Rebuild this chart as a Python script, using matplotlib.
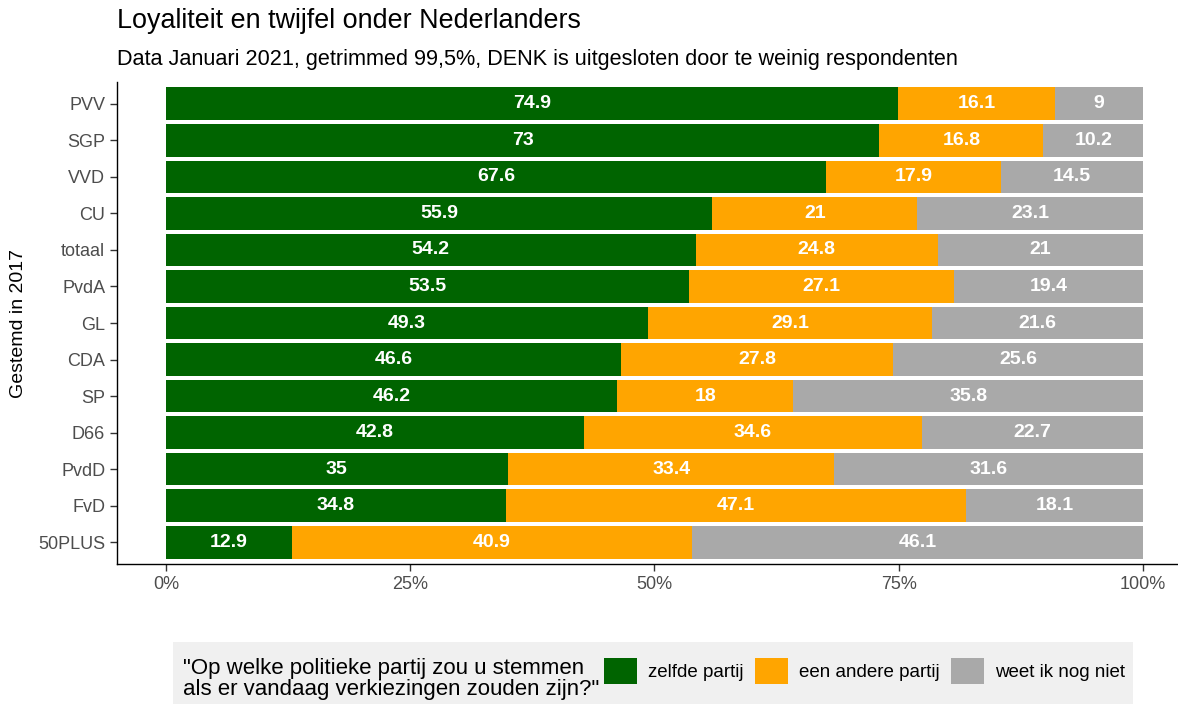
import matplotlib.pyplot as plt
from matplotlib.patches import Patch, Rectangle
import numpy as np

plt.rcParams['font.family'] = ['Liberation Sans', 'DejaVu Sans']

# ── Data (top to bottom) ──
parties = ['PVV', 'SGP', 'VVD', 'CU', 'totaal', 'PvdA', 'GL', 'CDA', 'SP',
           'D66', 'PvdD', 'FvD', '50PLUS']
zelfde = [74.9, 73, 67.6, 55.9, 54.2, 53.5, 49.3, 46.6, 46.2, 42.8, 35, 34.8, 12.9]
andere = [16.1, 16.8, 17.9, 21, 24.8, 27.1, 29.1, 27.8, 18, 34.6, 33.4, 47.1, 40.9]
weet_niet = [9, 10.2, 14.5, 23.1, 21, 19.4, 21.6, 25.6, 35.8, 22.7, 31.6, 18.1, 46.1]
labels = ['zelfde partij', 'een andere partij', 'weet ik nog niet']
colors = ['#006400', '#FFA500', '#A9A9A9']
ticks = [0, 25, 50, 75, 100]
tick_labels = ['0%', '25%', '50%', '75%', '100%']

W, H = 1178, 704
fig = plt.figure(figsize=(W / 100, H / 100), dpi=100)
ax = fig.add_axes([117 / W, 1 - 564 / H, (1192 - 117) / W, (564 - 82) / H])

series = np.array([zelfde, andere, weet_niet], dtype=float)
totals = series.sum(axis=0)
pct = series / totals * 100  # position = "fill"
y = np.arange(len(parties))

left = np.zeros(len(parties))
for k in range(3):
    ax.barh(y, pct[k], left=left, height=0.9, color=colors[k], label=labels[k])
    for i in range(len(parties)):
        ax.text(left[i] + pct[k][i] / 2, y[i], f'{series[k][i]:g}', ha='center', va='center',
                color='white', fontsize=14, fontweight='bold')
    left += pct[k]

ax.set_xlim(-5, 105)
ax.set_ylim(len(parties) - 0.4, -0.6)
ax.set_yticks(y)
ax.set_yticklabels(parties)
ax.set_xticks(ticks)
ax.set_xticklabels(tick_labels)
ax.tick_params(labelsize=13, colors='#333333', labelcolor='#4D4D4D', length=5, width=1)
ax.spines['top'].set_visible(False)
ax.spines['right'].set_visible(False)
ax.spines['left'].set_linewidth(1)
ax.spines['bottom'].set_linewidth(1)
ax.set_ylabel('Gestemd in 2017', fontsize=14, labelpad=8)

fig.text(117 / W, 1 - 21 / H, 'Loyaliteit en twijfel onder Nederlanders', fontsize=19.4, va='center')
fig.text(117 / W, 1 - 59 / H,
         'Data Januari 2021, getrimmed 99,5%, DENK is uitgesloten door te weinig respondenten',
         fontsize=15.6, va='center')

# ── Legend ──
fig.patches.append(Rectangle((173 / W, 0), (1133 - 173) / W, (704 - 642) / H,
                             transform=fig.transFigure, facecolor='#F0F0F0', edgecolor='none'))
fig.text(183 / W, 1 - 679 / H,
         '"Op welke politieke partij zou u stemmen\nals er vandaag verkiezingen zouden zijn?"',
         fontsize=16, va='center', linespacing=0.95)
handles = [Patch(facecolor=c) for c in colors]
fig.legend(handles, labels, ncol=3, loc='center left', bbox_to_anchor=(604 / W, 1 - 671 / H),
           frameon=False, fontsize=13.5, handlelength=1.75, handleheight=1.75,
           handletextpad=0.6, columnspacing=0.6, borderpad=0, borderaxespad=0)

fig.savefig('out.png', dpi=100)
